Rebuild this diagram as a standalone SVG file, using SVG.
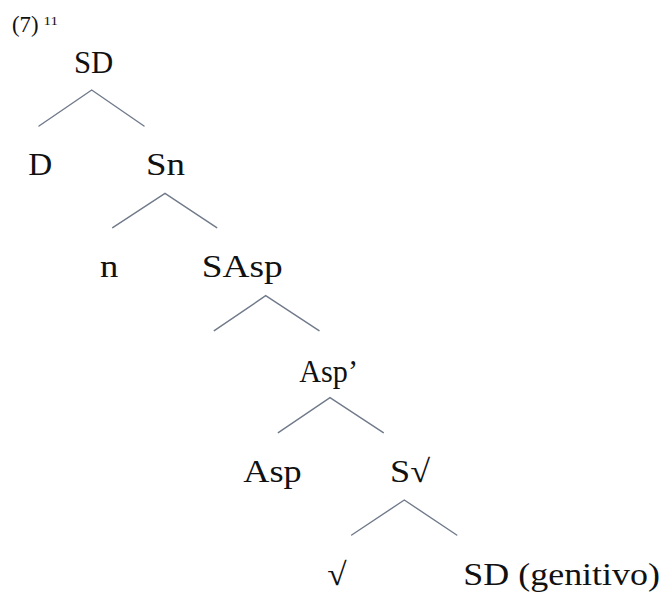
<svg xmlns="http://www.w3.org/2000/svg" width="665" height="592" viewBox="0 0 665 592">
<style>
text{font-family:"Liberation Serif","Times New Roman",serif;font-size:32px;fill:#111111}
.e{stroke:#707a8a;stroke-width:1.4;fill:none;stroke-linecap:round}
</style>
<rect width="665" height="592" fill="#ffffff"/>
<g id="label">
<text x="12" y="32" textLength="26.5" lengthAdjust="spacingAndGlyphs" style="font-size:23.5px">(7)</text>
<text x="43.5" y="25" textLength="14.5" lengthAdjust="spacingAndGlyphs" style="font-size:12.5px">11</text>
</g>
<g id="connectors">
<polyline class="e" points="39,126 91.7,90 144,126"/>
<polyline class="e" points="112.7,227.7 165,193.3 216.7,227.7"/>
<polyline class="e" points="214.3,330.7 265.7,295.7 319,330.7"/>
<polyline class="e" points="278.3,432.7 330,397.7 383.3,432.7"/>
<polyline class="e" points="351.7,535 404.3,500 456.7,535"/>
</g>
<g id="n-SD"><text x="74" y="73.3" textLength="39.3" lengthAdjust="spacingAndGlyphs">SD</text></g>
<g id="n-D"><text x="28.3" y="175" textLength="24" lengthAdjust="spacingAndGlyphs">D</text></g>
<g id="n-Sn"><text x="146" y="175" textLength="39" lengthAdjust="spacingAndGlyphs">Sn</text></g>
<g id="n-n"><text x="100" y="276.7" textLength="18.3" lengthAdjust="spacingAndGlyphs">n</text></g>
<g id="n-SAsp"><text x="201.7" y="276.7" textLength="81" lengthAdjust="spacingAndGlyphs">SAsp</text></g>
<g id="n-AspBar"><text x="299.3" y="381.7" textLength="58.7" lengthAdjust="spacingAndGlyphs">Asp’</text></g>
<g id="n-Asp"><text x="243.3" y="481.7" textLength="58.4" lengthAdjust="spacingAndGlyphs">Asp</text></g>
<g id="n-SRoot"><text x="390" y="481.7" textLength="40" lengthAdjust="spacingAndGlyphs">S√</text></g>
<g id="n-Root"><text x="327.3" y="585" textLength="19.4" lengthAdjust="spacingAndGlyphs">√</text></g>
<g id="n-SDgen"><text x="463.3" y="585" textLength="196.7" lengthAdjust="spacingAndGlyphs">SD (genitivo)</text></g>
</svg>
